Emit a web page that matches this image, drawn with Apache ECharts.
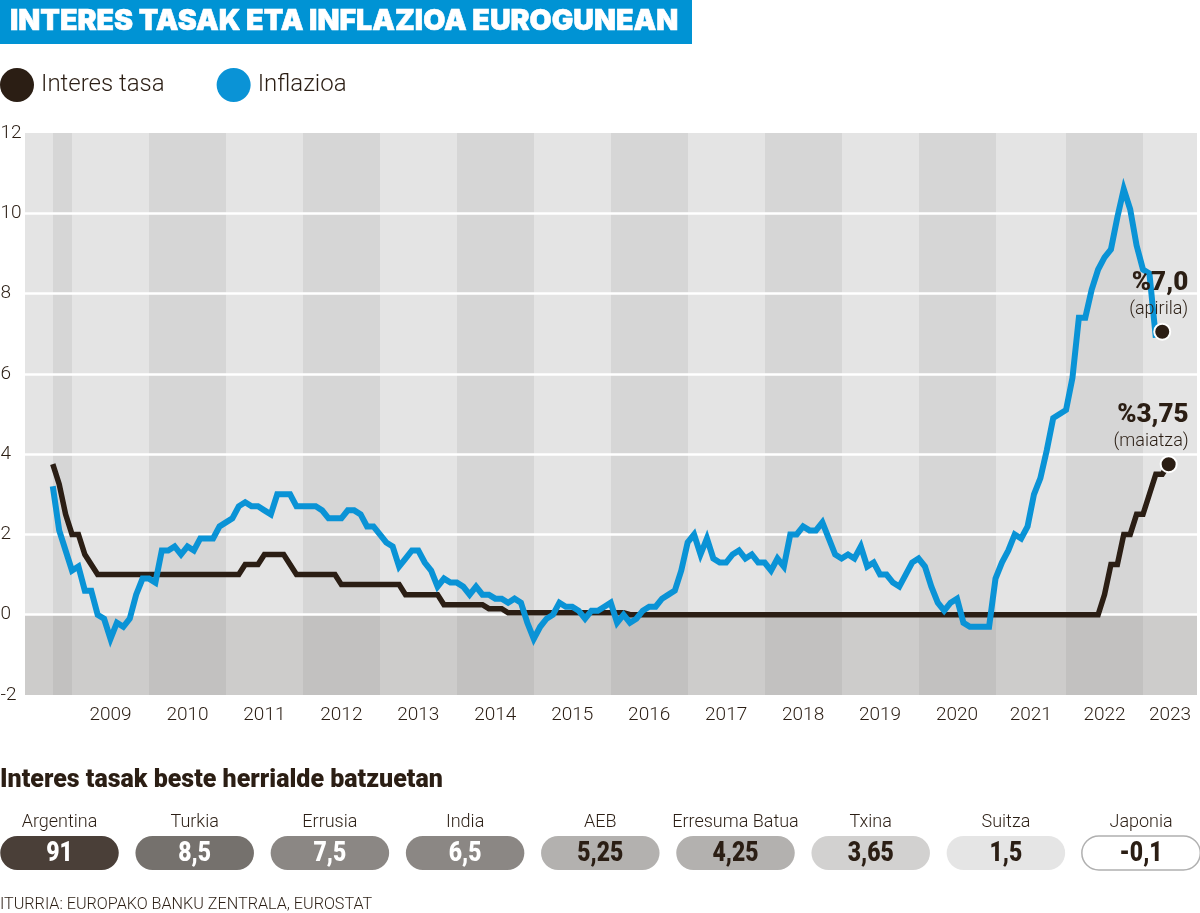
<!DOCTYPE html>
<html>
<head>
<meta charset="utf-8">
<title>Interes tasak eta inflazioa eurogunean</title>
<script src="https://cdn.jsdelivr.net/npm/echarts@6/dist/echarts.min.js"></script>
<style>
  html, body { margin: 0; padding: 0; background: #fff; }
  #chart { width: 1200px; height: 913px; }
</style>
</head>
<body>
<div id="chart"></div>
<script>
// Monthly values, Oct 2008 -> May 2023 (the reference skips Feb 2021)
const rateValues = [
  3.75, 3.25, 2.5,
  2, 2, 1.5, 1.25, 1, 1, 1, 1, 1, 1, 1, 1,
  1, 1, 1, 1, 1, 1, 1, 1, 1, 1, 1, 1,
  1, 1, 1, 1.25, 1.25, 1.25, 1.5, 1.5, 1.5, 1.5, 1.25, 1,
  1, 1, 1, 1, 1, 1, 0.75, 0.75, 0.75, 0.75, 0.75, 0.75,
  0.75, 0.75, 0.75, 0.75, 0.5, 0.5, 0.5, 0.5, 0.5, 0.5, 0.25, 0.25,
  0.25, 0.25, 0.25, 0.25, 0.25, 0.15, 0.15, 0.15, 0.05, 0.05, 0.05, 0.05,
  0.05, 0.05, 0.05, 0.05, 0.05, 0.05, 0.05, 0.05, 0.05, 0.05, 0.05, 0.05,
  0.05, 0.05, 0.05, 0, 0, 0, 0, 0, 0, 0, 0, 0,
  0, 0, 0, 0, 0, 0, 0, 0, 0, 0, 0, 0,
  0, 0, 0, 0, 0, 0, 0, 0, 0, 0, 0, 0,
  0, 0, 0, 0, 0, 0, 0, 0, 0, 0, 0, 0,
  0, 0, 0, 0, 0, 0, 0, 0, 0, 0, 0, 0,
  0, 0, 0, 0, 0, 0, 0, 0, 0, 0, 0,
  0, 0, 0, 0, 0, 0, 0.5, 1.25, 1.25, 2, 2, 2.5,
  2.5, 3, 3.5, 3.5, 3.75
];
const inflationValues = [
  3.2, 2.1, 1.6,
  1.1, 1.2, 0.6, 0.6, 0, -0.1, -0.6, -0.2, -0.3, -0.1, 0.5, 0.9,
  0.9, 0.8, 1.6, 1.6, 1.7, 1.5, 1.7, 1.6, 1.9, 1.9, 1.9, 2.2,
  2.3, 2.4, 2.7, 2.8, 2.7, 2.7, 2.6, 2.5, 3, 3, 3, 2.7,
  2.7, 2.7, 2.7, 2.6, 2.4, 2.4, 2.4, 2.6, 2.6, 2.5, 2.2, 2.2,
  2, 1.8, 1.7, 1.2, 1.4, 1.6, 1.6, 1.3, 1.1, 0.7, 0.9, 0.8,
  0.8, 0.7, 0.5, 0.7, 0.5, 0.5, 0.4, 0.4, 0.3, 0.4, 0.3, -0.2,
  -0.6, -0.3, -0.1, 0, 0.3, 0.2, 0.2, 0.1, -0.1, 0.1, 0.1, 0.2,
  0.3, -0.2, 0, -0.2, -0.1, 0.1, 0.2, 0.2, 0.4, 0.5, 0.6, 1.1,
  1.8, 2, 1.5, 1.9, 1.4, 1.3, 1.3, 1.5, 1.6, 1.4, 1.5, 1.3,
  1.3, 1.1, 1.4, 1.2, 2, 2, 2.2, 2.1, 2.1, 2.3, 1.9, 1.5,
  1.4, 1.5, 1.4, 1.7, 1.2, 1.3, 1, 1, 0.8, 0.7, 1, 1.3,
  1.4, 1.2, 0.7, 0.3, 0.1, 0.3, 0.4, -0.2, -0.3, -0.3, -0.3, -0.3,
  0.9, 1.3, 1.6, 2, 1.9, 2.2, 3, 3.4, 4.1, 4.9, 5,
  5.1, 5.9, 7.4, 7.4, 8.1, 8.6, 8.9, 9.1, 9.9, 10.6, 10.1, 9.2,
  8.6, 8.5, 6.9
];
const inflationLatest = 7.05; // April dot, sits apart from the line
const inflationLatestMonth = 173;

// year bands, in months counted from Oct 2008
const yearNames = ['2009', '2010', '2011', '2012', '2013', '2014', '2015', '2016', '2017', '2018', '2019', '2020', '2021', '2022', '2023'];
const yearStarts = [3, 15, 27, 39, 51, 63, 75, 87, 99, 111, 123, 135, 147, 158, 170];
const axisMonthMin = -4.41;
const axisMonthMax = 178.42;

const countries = ['Argentina', 'Turkia', 'Errusia', 'India', 'AEB', 'Erresuma Batua', 'Txina', 'Suitza', 'Japonia'];
const countryRates = [91, 8.5, 7.5, 6.5, 5.25, 4.25, 3.65, 1.5, -0.1];
const pillColors = ['#4a3f38', '#75716d', '#8b8784', '#8b8784', '#b3b1af', '#b3b1af', '#d2d1d0', '#e5e5e5', '#ffffff'];
const pillTextColors = ['#fff', '#fff', '#fff', '#fff', '#2b1e14', '#2b1e14', '#2b1e14', '#2b1e14', '#2b1e14'];

const DARK = '#2b1e14';
const BLUE = '#0a93d6';
const FONT = 'Roboto';

// Build [start, end, kind] rows for the shaded columns
const bandEdges = [axisMonthMin, 0].concat(yearStarts, [axisMonthMax]);
const bandRows = [];
for (let i = 0; i < bandEdges.length - 1; i++) {
    bandRows.push([bandEdges[i], bandEdges[i + 1], i % 2]);
}

function renderBand(params, api) {
    const topLeft = api.coord([api.value(0), 12]);
    const zero = api.coord([api.value(1), 0]);
    const bottom = api.coord([api.value(1), -2]);
    const left = Math.round(topLeft[0]);
    const width = Math.round(zero[0]) - left;
    const fill = api.value(2) === 1 ? '#d6d6d6' : '#e4e4e4';
    const under = api.value(2) === 1 ? '#c2c1c0' : '#cdcccb';
    return {
        type: 'group',
        children: [
            { type: 'rect', shape: { x: left, y: topLeft[1], width: width, height: zero[1] - topLeft[1] }, style: { fill: fill } },
            { type: 'rect', shape: { x: left, y: zero[1], width: width, height: bottom[1] - zero[1] }, style: { fill: under } }
        ]
    };
}

function renderPill(params, api) {
    const i = api.value(0);
    const c = api.coord([i, 0]);
    const w = 118.5, h = 34;
    return {
        type: 'group',
        children: [
            {
                type: 'rect',
                shape: { x: c[0] - w / 2, y: c[1] - h / 2, width: w, height: h, r: 17 },
                style: { fill: pillColors[i], stroke: i === 8 ? '#b0b0b0' : null, lineWidth: 1.5 }
            },
            {
                type: 'text',
                x: c[0], y: c[1] + 1, scaleX: 0.85,
                style: {
                    text: String(api.value(1)).replace('.', ','),
                    align: 'center', verticalAlign: 'middle',
                    fill: pillTextColors[i],
                    font: '900 27px ' + FONT
                }
            }
        ]
    };
}

const chart = echarts.init(document.getElementById('chart'));

chart.setOption({
    animation: false,
    backgroundColor: '#fff',
    textStyle: { fontFamily: FONT, color: DARK },
    legend: {
        left: 0, top: 68, padding: 0,
        data: ['Interes tasa', 'Inflazioa'],
        icon: 'circle',
        itemWidth: 34, itemHeight: 34, itemGap: 52,
        textStyle: { fontFamily: FONT, fontWeight: 300, fontSize: 24, color: DARK, padding: [4, 0, 0, 2] },
        selectedMode: false
    },
    graphic: [
        { type: 'rect', shape: { x: 0, y: 0, width: 692, height: 44 }, style: { fill: '#0093d4' } },
        { type: 'text', x: 10, y: 21, style: { text: 'INTERES TASAK ETA INFLAZIOA EUROGUNEAN', fill: '#fff', stroke: '#fff', lineWidth: 0.6, font: '900 28.6px Inter', verticalAlign: 'middle' } },
        { type: 'text', x: 0, y: 781, style: { text: 'Interes tasak beste herrialde batzuetan', fill: DARK, font: '900 25px ' + FONT, verticalAlign: 'middle' } },
        { type: 'text', x: 0, y: 905, scaleX: 1.01, style: { text: 'ITURRIA: EUROPAKO BANKU ZENTRALA, EUROSTAT', fill: DARK, font: '300 16px ' + FONT, verticalAlign: 'middle' } }
    ],
    grid: [
        { left: 24.5, top: 133, width: 1172.5, height: 562, outerBoundsMode: 'none' },
        { left: -8.1, top: 836, width: 1216.8, height: 34, outerBoundsMode: 'none' }
    ],
    xAxis: [
        {
            type: 'value', gridIndex: 0,
            min: axisMonthMin, max: axisMonthMax,
            splitLine: { show: false }, axisLine: { show: false }, axisTick: { show: false },
            axisLabel: {
                color: DARK, fontFamily: FONT, fontWeight: 300, fontSize: 19, margin: 11,
                customValues: yearStarts.map((start, i) => (start + (yearStarts[i + 1] || axisMonthMax)) / 2),
                formatter: function (value) {
                    const i = yearStarts.findIndex((start, k) => value >= start && value < (yearStarts[k + 1] || axisMonthMax));
                    return yearNames[i];
                }
            }
        },
        {
            type: 'category', gridIndex: 1, position: 'top', data: countries,
            axisLine: { show: false }, axisTick: { show: false },
            axisLabel: { interval: 0, color: DARK, fontFamily: FONT, fontWeight: 300, fontSize: 18, margin: 5 }
        }
    ],
    yAxis: [
        {
            type: 'value', gridIndex: 0, min: -2, max: 12, interval: 2,
            axisLine: { show: false }, axisTick: { show: false },
            splitLine: { show: true, showMinLine: false, showMaxLine: false, lineStyle: { color: '#fff', width: 2.5 } },
            axisLabel: { align: 'left', margin: 24, color: DARK, fontFamily: FONT, fontWeight: 300, fontSize: 19 }
        },
        { type: 'value', gridIndex: 1, min: -1, max: 1, show: false }
    ],
    series: [
        {
            type: 'custom', xAxisIndex: 0, yAxisIndex: 0, z: -1, silent: true,
            renderItem: renderBand, data: bandRows, encode: { x: [0, 1] }
        },
        {
            name: 'Interes tasa', type: 'line', xAxisIndex: 0, yAxisIndex: 0, z: 3,
            data: rateValues.map((v, i) => [i, v]),
            showSymbol: false,
            color: DARK, lineStyle: { color: DARK, width: 5.5, join: 'miter' }
        },
        {
            name: 'Inflazioa', type: 'line', xAxisIndex: 0, yAxisIndex: 0, z: 4,
            data: inflationValues.map((v, i) => [i, v]),
            showSymbol: false,
            color: BLUE, lineStyle: { color: BLUE, width: 6, join: 'miter' }
        },
        {
            type: 'scatter', xAxisIndex: 0, yAxisIndex: 0, z: 5,
            symbolSize: 16,
            itemStyle: { color: DARK, borderColor: '#fff', borderWidth: 2, opacity: 1 },
            data: [
                { value: [inflationLatestMonth, inflationLatest], label: { formatter: '{big|%7,0}\n{small|(apirila)}', position: [35, -1] } },
                { value: [rateValues.length - 1, rateValues[rateValues.length - 1]], label: { formatter: '{big|%3,75}\n{small|(maiatza)}', position: [29, -2] } }
            ],
            label: {
                show: true, align: 'right', verticalAlign: 'bottom',
                rich: {
                    big: { fontFamily: FONT, fontWeight: 900, fontSize: 26, lineHeight: 28, color: DARK, align: 'right' },
                    small: { fontFamily: FONT, fontWeight: 300, fontSize: 18, lineHeight: 24, color: DARK, align: 'right' }
                }
            }
        },
        {
            type: 'custom', xAxisIndex: 1, yAxisIndex: 1, silent: true,
            renderItem: renderPill,
            data: countryRates.map((v, i) => [i, v]),
            encode: { x: 0 }
        }
    ]
});
</script>
</body>
</html>
